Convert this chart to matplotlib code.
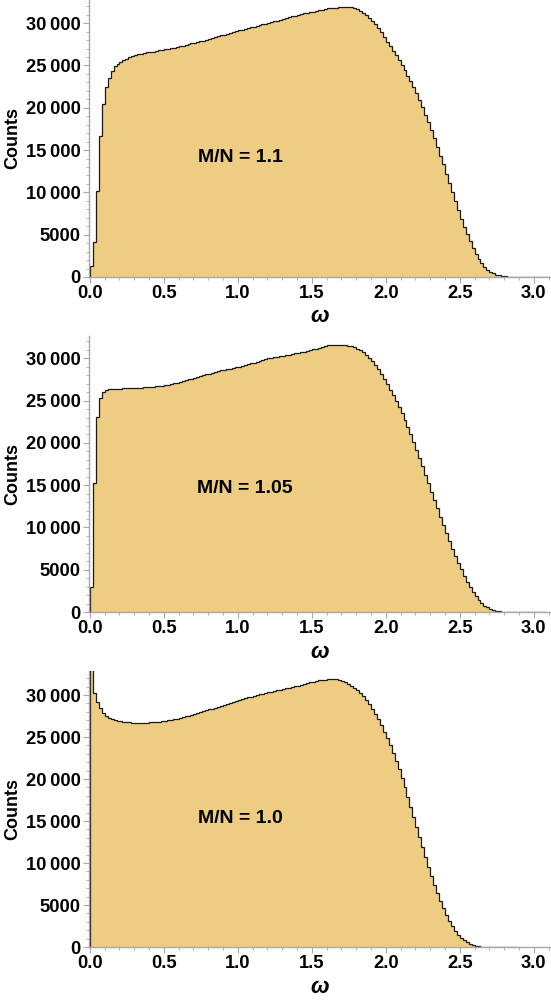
import numpy as np
import matplotlib.pyplot as plt
from matplotlib.ticker import MultipleLocator, FuncFormatter

plt.rcParams['font.family'] = ['Liberation Sans', 'DejaVu Sans']

# histogram bin width in omega
bin_width = 0.02

# counts per bin, M/N = 1.1
counts_11 = [
    1300, 4100, 10200, 16700, 20400, 22400, 23500, 24400, 24900, 25200,
    25450, 25650, 25800, 25950, 26100, 26200, 26300, 26400, 26450, 26550,
    26600, 26650, 26700, 26800, 26850, 26900, 27000, 27050, 27100, 27200,
    27250, 27350, 27400, 27500, 27600, 27650, 27750, 27850, 27950, 28050,
    28150, 28250, 28350, 28450, 28550, 28650, 28750, 28850, 28950, 29050,
    29150, 29250, 29350, 29450, 29550, 29600, 29700, 29750, 29850, 29900,
    30000, 30100, 30200, 30300, 30400, 30500, 30600, 30700, 30800, 30900,
    30950, 31050, 31150, 31200, 31300, 31350, 31450, 31550, 31600, 31700,
    31750, 31800, 31850, 31850, 31900, 31900, 31880, 31900, 31880, 31800,
    31650, 31450, 31200, 30950, 30650, 30300, 29900, 29400, 28900, 28350,
    27800, 27300, 26750, 26200, 25650, 25050, 24450, 23800, 23150, 22450,
    21700, 20900, 20050, 19200, 18300, 17350, 16400, 15400, 14350, 13300,
    12200, 11100, 10000, 8950, 7900, 6900, 5950, 5050, 4200, 3450,
    2750, 2150, 1650, 1220, 880, 620, 420, 280, 180, 110,
    70, 45, 28, 17, 10, 6, 4, 2, 1, 1,
    0, 0, 0, 0, 0,
]

# counts per bin, M/N = 1.05
counts_105 = [
    2960, 15200, 23100, 25270, 26050, 26250, 26330, 26350, 26380, 26400,
    26420, 26440, 26460, 26480, 26500, 26510, 26530, 26550, 26570, 26590,
    26620, 26650, 26690, 26730, 26780, 26840, 26900, 26970, 27050, 27130,
    27210, 27300, 27400, 27500, 27600, 27700, 27800, 27900, 28000, 28100,
    28200, 28300, 28400, 28500, 28580, 28650, 28720, 28800, 28870, 28940,
    29010, 29100, 29200, 29300, 29400, 29500, 29600, 29700, 29800, 29900,
    30000, 30050, 30120, 30180, 30250, 30320, 30380, 30450, 30520, 30590,
    30650, 30720, 30800, 30880, 30960, 31050, 31150, 31250, 31350, 31450,
    31530, 31580, 31610, 31620, 31620, 31600, 31560, 31500, 31420, 31300,
    31150, 30950, 30700, 30400, 30050, 29650, 29200, 28700, 28150, 27550,
    26950, 26300, 25650, 24950, 24250, 23500, 22700, 21850, 21000, 20100,
    19150, 18200, 17250, 16250, 15250, 14250, 13250, 12250, 11250, 10250,
    9300, 8400, 7500, 6650, 5850, 5050, 4300, 3600, 2950, 2350,
    1850, 1400, 1050, 760, 540, 370, 250, 160, 100, 60,
    35, 20, 12, 6, 3, 2, 1, 0, 0, 0,
    0, 0, 0, 0,
]

# counts per bin, M/N = 1.0
counts_10 = [
    36000, 30240, 29200, 28450, 27860, 27500, 27300, 27150, 27030, 26950,
    26880, 26820, 26780, 26740, 26710, 26700, 26690, 26690, 26700, 26720,
    26740, 26770, 26800, 26840, 26890, 26950, 27000, 27060, 27130, 27200,
    27280, 27360, 27450, 27540, 27640, 27740, 27840, 27950, 28060, 28170,
    28280, 28390, 28500, 28620, 28740, 28860, 28980, 29100, 29210, 29310,
    29410, 29510, 29610, 29710, 29810, 29900, 29990, 30080, 30170, 30250,
    30330, 30410, 30490, 30570, 30650, 30730, 30810, 30890, 30970, 31050,
    31130, 31220, 31310, 31400, 31490, 31580, 31660, 31730, 31790, 31840,
    31880, 31900, 31900, 31870, 31800, 31700, 31550, 31350, 31100, 30850,
    30600, 30250, 29850, 29400, 28900, 28350, 27750, 27100, 26400, 25650,
    24850, 24000, 23100, 22150, 21150, 20100, 19000, 17850, 16700, 15500,
    14300, 13100, 11900, 10700, 9550, 8450, 7400, 6400, 5450, 4600,
    3800, 3100, 2450, 1900, 1450, 1080, 780, 550, 380, 250,
    160, 100, 60, 35, 20, 12, 7, 4, 2, 1,
    1, 0, 0, 0,
]

labels = ["M/N = 1.1", "M/N = 1.05", "M/N = 1.0"]
series = [counts_11, counts_105, counts_10]
y_tops = [32740, 32640, 32850]
label_pos = [(1.02, 14100), (1.05, 14650), (1.02, 15350)]

fill_color = '#EECD82'
axis_color = '#a8a8a8'


def fmt_counts(v, pos):
    v = int(round(v))
    if v >= 10000:
        return '{}\u2009{:03d}'.format(v // 1000, v % 1000)
    return str(v)


def display():
    fig = plt.figure(figsize=(5.51, 10.01), dpi=100)

    # axes boxes in figure fractions (left, bottom, width, height)
    boxes = [
        (0.1615, 0.7233, 0.8367, 0.2767),
        (0.1615, 0.3886, 0.8367, 0.2757),
        (0.1615, 0.0539, 0.8367, 0.2757),
    ]

    for box, counts, label, ytop, lp in zip(boxes, series, labels, y_tops, label_pos):
        ax = fig.add_axes(box)
        edges = np.arange(len(counts) + 1) * bin_width
        ax.stairs(counts, edges, fill=True, facecolor=fill_color,
                  edgecolor='#1a1a1a', linewidth=0.9, baseline=0)

        ax.set_xlim(-0.006, 3.11)
        ax.set_ylim(0, ytop)

        for s in ['top', 'right']:
            ax.spines[s].set_visible(False)
        for s in ['left', 'bottom']:
            ax.spines[s].set_color(axis_color)
            ax.spines[s].set_linewidth(1.0)

        ax.xaxis.set_major_locator(MultipleLocator(0.5))
        ax.xaxis.set_minor_locator(MultipleLocator(0.1))
        ax.yaxis.set_major_locator(MultipleLocator(5000))
        ax.yaxis.set_minor_locator(MultipleLocator(1000))
        ax.xaxis.set_major_formatter(FuncFormatter(lambda v, p: '{:.1f}'.format(v)))
        ax.yaxis.set_major_formatter(FuncFormatter(fmt_counts))

        ax.tick_params(which='major', direction='out', length=4, width=0.8,
                       color=axis_color, labelsize=13.2, pad=2)
        ax.tick_params(which='minor', direction='out', length=2, width=0.6,
                       color=axis_color)
        for t in ax.get_xticklabels() + ax.get_yticklabels():
            t.set_fontweight('bold')

        ax.set_ylabel('Counts', fontsize=13, fontweight='bold', labelpad=3)
        ax.set_xlabel('ω', fontsize=16, fontweight='bold', fontstyle='italic',
                      labelpad=3)

        ax.text(lp[0], lp[1], label, fontsize=14, fontweight='bold',
                ha='center', va='center')

    fig.savefig('out.png', dpi=100)


if __name__ == '__main__':
    display()
